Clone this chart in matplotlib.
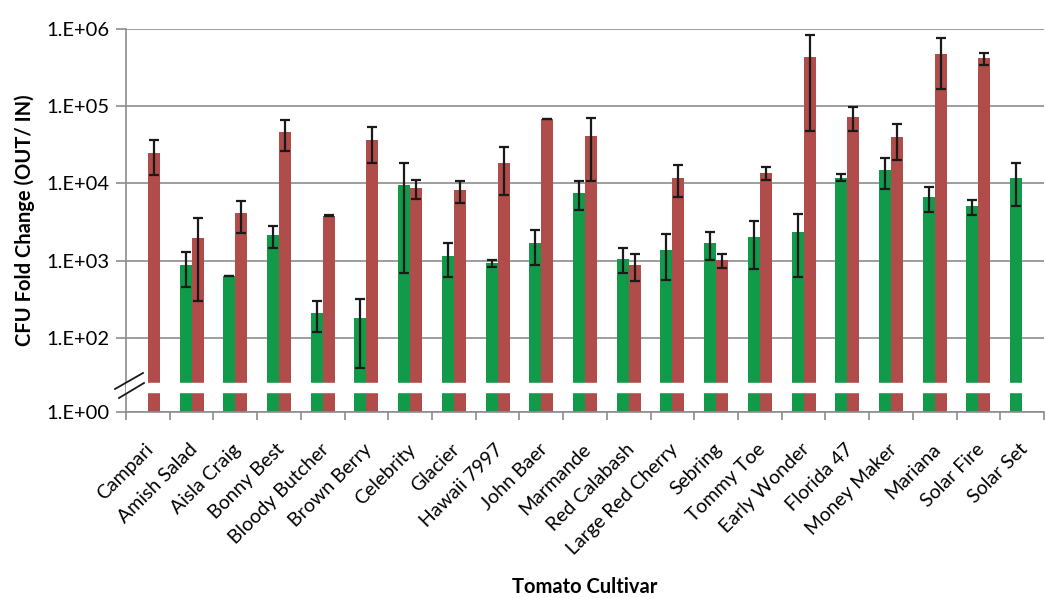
import numpy as np
import matplotlib.pyplot as plt
import matplotlib.ticker as mticker
import matplotlib.transforms as mtransforms

plt.rcParams['font.family'] = ['Lato', 'DejaVu Sans']

# Data (green = first series, red = second series)
cultivars = ['Campari', 'Amish Salad', 'Aisla Craig', 'Bonny Best', 'Bloody Butcher',
             'Brown Berry', 'Celebrity', 'Glacier', 'Hawaii 7997', 'John Baer',
             'Marmande', 'Red Calabash', 'Large Red Cherry', 'Sebring', 'Tommy Toe',
             'Early Wonder', 'Florida 47', 'Money Maker', 'Mariana', 'Solar Fire',
             'Solar Set']
green_vals = [np.nan, 870, 632, 2130, 207,
              179, 9500, 1150, 923, 1675,
              7600, 1060, 1370, 1675, 2000,
              2320, 11900, 14900, 6600, 5050,
              11750]
green_err = [0, 420, 8, 680, 90,
             138, 8800, 530, 100, 800,
             3100, 380, 810, 650, 1230,
             1700, 1200, 6400, 2300, 1130,
             6600]
red_vals = [25000, 1950, 4100, 46000, 3820,
            36500, 8640, 8150, 18500, 68200,
            40700, 877, 11900, 1018, 13800,
            437000, 73000, 39500, 470000, 417000,
            np.nan]
red_err = [12000, 1650, 1800, 19500, 40,
           18000, 2400, 2600, 11500, 500,
           30000, 340, 5200, 215, 2700,
           390000, 25000, 19200, 303000, 78000,
           0]

green = '#129a4b'
red = '#b04c4a'

fig = plt.figure(figsize=(10.45, 5.98), dpi=100)
ax = fig.add_axes([126 / 1045, 1 - 412 / 598, 918 / 1045, 383 / 598])

x = np.arange(len(cultivars))
w = 0.275
ax.set_yscale('log')
ax.bar(x - w / 2, green_vals, w, color=green, zorder=2)
ax.bar(x + w / 2, red_vals, w, color=red, zorder=2)
ax.errorbar(x - w / 2, green_vals, yerr=green_err, fmt='none', ecolor='#1a1a1a',
            elinewidth=1.6, capsize=3.5, capthick=1.6, zorder=3)
ax.errorbar(x + w / 2, red_vals, yerr=red_err, fmt='none', ecolor='#1a1a1a',
            elinewidth=1.6, capsize=3.5, capthick=1.6, zorder=3)

ybot = 10 ** 1.038
ax.set_ylim(ybot, 1e6)
ax.set_xlim(-0.5, len(cultivars) - 0.5)

# axis break band
ax.axhspan(10 ** 1.30, 10 ** 1.41, color='white', zorder=4)

ax.set_yticks([ybot, 1e2, 1e3, 1e4, 1e5, 1e6])
ax.set_yticklabels(['1.E+00', '1.E+02', '1.E+03', '1.E+04', '1.E+05', '1.E+06'])
ax.yaxis.set_minor_locator(mticker.NullLocator())
ax.grid(axis='y', color='#8c8c8c', linewidth=1.2, zorder=0)

ax.set_xticks(x)
ax.set_xticklabels(cultivars, rotation=45, ha='right', rotation_mode='anchor')
ax.set_xticks(np.arange(len(cultivars) + 1) - 0.5, minor=True)
ax.tick_params(axis='x', which='major', length=0, pad=12, labelsize=14)
ax.tick_params(axis='x', which='minor', length=6, color='#8c8c8c', width=1.2)
ax.tick_params(axis='y', length=7, color='#8c8c8c', width=1.2, labelsize=14.5, pad=5)

offset = mtransforms.ScaledTranslation(-3 / 100, -12 / 100, fig.dpi_scale_trans)
for lbl in ax.get_xticklabels():
    lbl.set_transform(lbl.get_transform() + offset)

for side in ['top', 'right']:
    ax.spines[side].set_visible(False)
for side in ['left', 'bottom']:
    ax.spines[side].set_color('#8c8c8c')
    ax.spines[side].set_linewidth(1.2)

# break marks on the y axis
for (x0, y0, x1, y1) in [(115, 389, 143, 373), (119, 398, 144, 383)]:
    fig.add_artist(plt.Line2D([x0 / 1045, x1 / 1045], [1 - y0 / 598, 1 - y1 / 598],
                              color='#1a1a1a', linewidth=1.3))

ax.set_ylabel('CFU Fold Change (OUT/ IN)', fontsize=14.5, fontweight='bold', labelpad=8)
fig.text(585 / 1045, 1 - 587 / 598, 'Tomato Cultivar', fontsize=14.5, fontweight='bold',
         ha='center', va='center')

fig.savefig('out.png', dpi=100)
